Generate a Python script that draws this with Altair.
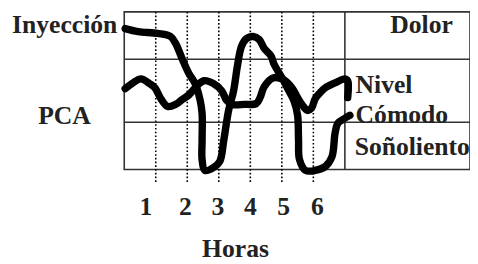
import altair as alt
import pandas as pd

# ---- data (x in hours, y in comfort-level units 0..10) ----
iny_x = [0.03, 0.44, 1.06, 1.47, 1.63, 1.78, 1.91, 2.06, 2.25, 2.41, 2.47, 2.47, 2.47, 2.56,
         2.84, 3.03, 3.16, 3.31, 3.47, 3.59, 3.72, 3.88, 4.09, 4.28, 4.44, 4.66, 4.75, 4.91,
         5.06, 5.22, 5.38, 5.50, 5.53, 5.56, 5.75, 6.06, 6.38, 6.59, 6.69, 6.78, 7.00, 7.16]
iny_y = [8.94, 8.75, 8.63, 8.44, 8.00, 7.31, 6.69, 6.06, 5.44, 4.38, 3.56, 1.88, 0.63, -0.06,
         0.13, 0.50, 1.88, 3.75, 5.00, 6.56, 7.81, 8.31, 8.44, 8.25, 7.69, 7.19, 6.69, 6.13,
         5.63, 5.00, 4.38, 3.44, 1.88, 0.63, -0.06, -0.06, 0.19, 0.81, 2.31, 2.94, 3.25, 3.44]

pca_x = [0.03, 0.28, 0.53, 0.81, 0.97, 1.16, 1.38, 1.63, 1.84, 2.06, 2.31, 2.53, 2.84, 3.09,
         3.25, 3.41, 3.81, 4.19, 4.31, 4.44, 4.72, 5.06, 5.34, 5.50, 5.66, 5.81, 5.94, 6.06,
         6.22, 6.38, 6.69, 7.00, 7.09, 7.09]
pca_y = [5.13, 5.50, 5.75, 5.44, 5.19, 4.50, 4.00, 4.13, 4.44, 4.75, 5.31, 5.63, 5.44, 5.00,
         4.38, 4.13, 4.13, 4.19, 4.56, 5.25, 5.81, 5.69, 5.13, 4.56, 4.06, 3.75, 3.88, 4.50,
         4.88, 5.19, 5.50, 5.75, 5.63, 4.56]

hour_labels = ["1", "2", "3", "4", "5", "6"]
hour_label_x = [0.69, 1.94, 2.97, 4.00, 5.06, 6.13]
hour_grid = [1, 2, 3, 4, 5, 6]

label_text = ["Inyección", "PCA", "Dolor", "Nivel", "Cómodo", "Soñoliento"]
label_x = [-3.56, -2.73, 8.44, 7.34, 7.34, 7.31]
label_y = [8.63, 2.88, 8.63, 4.88, 2.94, 0.94]

level_lines = [3, 7]
x_title = "Horas"

# ---- tables ----
curves = pd.concat([
    pd.DataFrame({"x": iny_x, "y": iny_y, "serie": "Inyección", "i": range(len(iny_x))}),
    pd.DataFrame({"x": pca_x, "y": pca_y, "serie": "PCA", "i": range(len(pca_x))}),
])
ticks = pd.DataFrame({"t": hour_labels, "x": hour_label_x, "y": [-2.875] * 6})
grid_v = pd.DataFrame({"x": hour_grid, "y": [10] * 6, "y2": [-0.8] * 6})
labels = pd.DataFrame({"t": label_text, "x": label_x, "y": label_y})
hlines = pd.DataFrame({"y": level_lines, "x": [0, 0], "x2": [10.97, 10.97]})
vline = pd.DataFrame({"x": [7], "y": [0], "y2": [10]})
title_df = pd.DataFrame({"t": [x_title], "x": [3.53], "y": [-5.56]})

xs = alt.Scale(domain=[0, 10.97], nice=False, zero=False)
ys = alt.Scale(domain=[0, 10], nice=False, zero=False)
X = lambda f="x": alt.X(f, type="quantitative", scale=xs, axis=None)
Y = lambda f="y": alt.Y(f, type="quantitative", scale=ys, axis=None)

font = "Liberation Serif"
ink = "#222222"

dotted = alt.Chart(grid_v).mark_rule(color="black", strokeWidth=1.6, strokeDash=[1.6, 2.2]).encode(
    x=X(), y=Y(), y2="y2")
hl = alt.Chart(hlines).mark_rule(color="#333333", strokeWidth=1.6).encode(x=X(), x2="x2", y=Y())
vl = alt.Chart(vline).mark_rule(color="#333333", strokeWidth=1.6).encode(x=X(), y=Y(), y2="y2")

lines = alt.Chart(curves).mark_line(color="black", strokeWidth=7.5, strokeCap="round",
                                    strokeJoin="round", interpolate="catmull-rom").encode(
    x=X(), y=Y(), detail="serie:N", order="i:Q")

tick_text = alt.Chart(ticks).mark_text(font=font, fontWeight="bold", fontSize=26, color=ink,
                                       align="center", baseline="alphabetic").encode(
    x=X(), y=Y(), text="t:N")
lab_text = alt.Chart(labels).mark_text(font=font, fontWeight="bold", fontSize=26, color=ink,
                                       align="left", baseline="alphabetic").encode(
    x=X(), y=Y(), text="t:N")
ttl = alt.Chart(title_df).mark_text(font=font, fontWeight="bold", fontSize=26, color=ink,
                                    align="center", baseline="alphabetic").encode(
    x=X(), y=Y(), text="t:N")

chart = alt.layer(dotted, hl, vl, lines, tick_text, lab_text, ttl).properties(
    width=351, height=160,
    autosize=alt.AutoSizeParams(type="none"),
    padding={"left": 118, "top": 2, "right": 0, "bottom": 94},
).configure_view(stroke="#333333", strokeWidth=1.6)

chart.save("out.html", embed_options={"renderer": "svg", "actions": False})
